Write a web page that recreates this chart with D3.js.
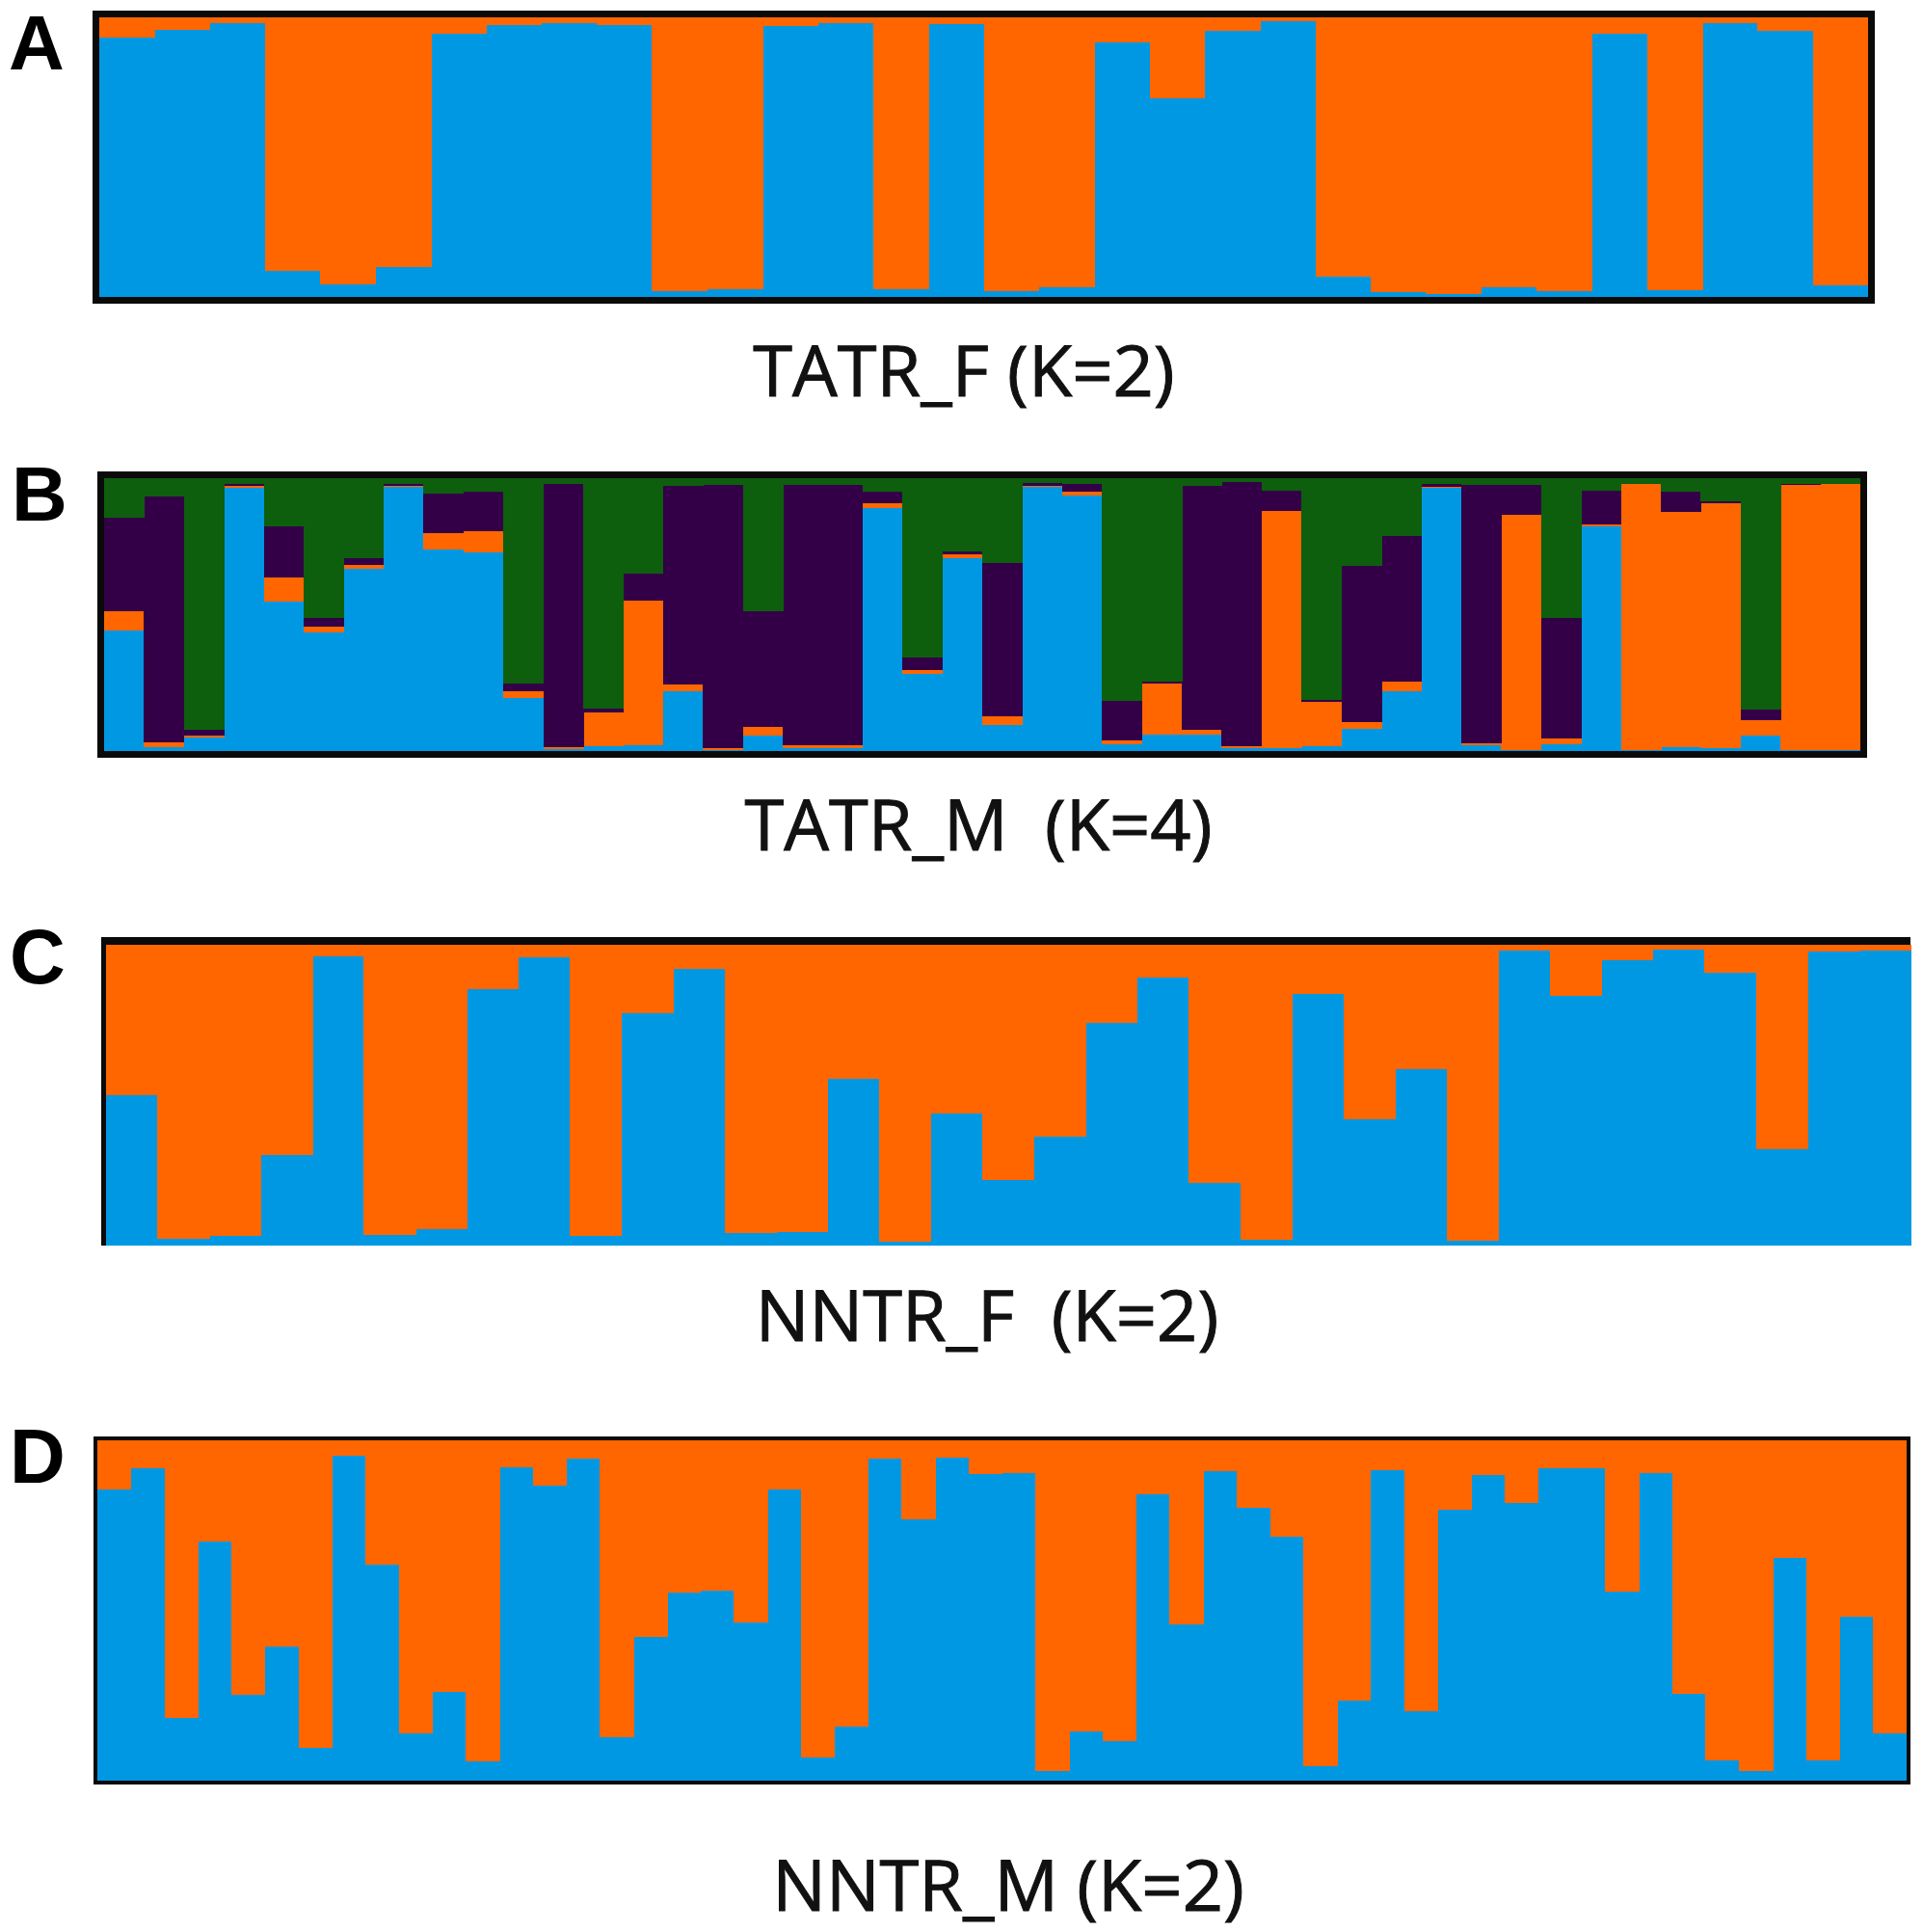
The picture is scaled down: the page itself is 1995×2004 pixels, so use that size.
<!DOCTYPE html>
<html>
<head>
<meta charset="utf-8">
<script src="https://cdn.jsdelivr.net/npm/d3@7/dist/d3.min.js"></script>
<style>
  html, body { margin: 0; padding: 0; background: #ffffff; }
  svg { display: block; }
</style>
</head>
<body>
<svg id="chart" width="1995" height="2004"></svg>
<script>
// ---------------- DATA ----------------
// Cluster colours
const clusterKeys = ["blue", "orange", "purple", "green"];
const clusterColors = ["#0098e3", "#ff6600", "#330047", "#0d5f0d"];

// Panel titles / letters
const panelLetters = ["A", "B", "C", "D"];
const panelTitles = ["TATR_F (K=2)", "TATR_M  (K=4)", "NNTR_F  (K=2)", "NNTR_M (K=2)"];

// Panel A: TATR_F, K=2 (32 individuals)
const aBlue = [0.928,0.957,0.980,0.095,0.045,0.107,0.941,0.974,0.980,0.974,0.023,0.029,0.971,0.980,0.029,0.977,
               0.023,0.037,0.910,0.713,0.954,0.986,0.075,0.017,0.011,0.034,0.021,0.943,0.026,0.979,0.952,0.044];
const aOrange = [0.072,0.043,0.020,0.905,0.955,0.893,0.059,0.026,0.020,0.026,0.977,0.971,0.029,0.020,0.971,0.023,
                 0.977,0.963,0.090,0.287,0.046,0.014,0.925,0.983,0.989,0.966,0.979,0.057,0.974,0.021,0.048,0.956];

// Panel B: TATR_M, K=4 (44 individuals)
const bBlue = [0.442,0.015,0.049,0.965,0.548,0.435,0.671,0.968,0.739,0.729,0.195,0.009,0.019,0.024,0.219,0.004,
               0.056,0.012,0.012,0.889,0.282,0.709,0.098,0.971,0.936,0.027,0.062,0.062,0.012,0.012,0.019,0.082,
               0.219,0.965,0.021,0.004,0.027,0.824,0.004,0.015,0.012,0.056,0.004,0.004];
const bOrange = [0.073,0.018,0.007,0.009,0.087,0.021,0.012,0.006,0.061,0.078,0.024,0.006,0.122,0.529,0.026,0.008,
                 0.035,0.009,0.012,0.020,0.015,0.012,0.032,0.003,0.016,0.012,0.188,0.015,0.007,0.871,0.161,0.024,
                 0.035,0.003,0.009,0.865,0.020,0.009,0.976,0.862,0.898,0.059,0.971,0.976];
const bPurple = [0.341,0.902,0.024,0.006,0.188,0.033,0.024,0.006,0.145,0.146,0.028,0.965,0.015,0.098,0.729,0.965,
                 0.424,0.955,0.952,0.041,0.047,0.012,0.560,0.009,0.027,0.147,0.005,0.896,0.969,0.074,0.008,0.574,
                 0.534,0.012,0.946,0.108,0.442,0.124,0.000,0.073,0.008,0.038,0.005,0.000];
const bGreen = [0.144,0.065,0.920,0.020,0.176,0.511,0.294,0.020,0.055,0.047,0.753,0.020,0.844,0.349,0.026,0.024,
                0.485,0.024,0.024,0.049,0.655,0.267,0.310,0.017,0.020,0.814,0.745,0.026,0.012,0.044,0.812,0.320,
                0.212,0.020,0.024,0.024,0.511,0.044,0.020,0.049,0.082,0.847,0.020,0.020];

// Panel C: NNTR_F, K=2 (35 individuals)
const cBlue = [0.502,0.024,0.032,0.302,0.964,0.037,0.056,0.853,0.959,0.032,0.773,0.920,0.042,0.047,0.554,0.013,0.441,
               0.220,0.364,0.741,0.893,0.208,0.021,0.837,0.420,0.586,0.018,0.982,0.831,0.950,0.985,0.907,0.321,0.979,0.982];
const cOrange = [0.498,0.976,0.968,0.698,0.036,0.963,0.944,0.147,0.041,0.968,0.227,0.080,0.958,0.953,0.446,0.987,0.559,
                 0.780,0.636,0.259,0.107,0.792,0.979,0.163,0.580,0.414,0.982,0.018,0.169,0.050,0.015,0.093,0.679,0.021,0.018];

// Panel D: NNTR_M, K=2 (54 individuals)
const dBlue = [0.855,0.920,0.184,0.704,0.253,0.395,0.097,0.955,0.636,0.139,0.262,0.057,0.922,0.868,0.947,0.129,0.422,0.553,
               0.560,0.466,0.855,0.069,0.159,0.947,0.768,0.950,0.903,0.905,0.028,0.144,0.118,0.841,0.461,0.909,0.803,0.718,
               0.043,0.236,0.912,0.205,0.797,0.898,0.818,0.919,0.919,0.555,0.905,0.255,0.059,0.028,0.655,0.059,0.482,0.139];
const dOrange = [0.145,0.080,0.816,0.296,0.747,0.605,0.903,0.045,0.364,0.861,0.738,0.943,0.078,0.132,0.053,0.871,0.578,0.447,
                 0.440,0.534,0.145,0.931,0.841,0.053,0.232,0.050,0.097,0.095,0.972,0.856,0.882,0.159,0.539,0.091,0.197,0.282,
                 0.957,0.764,0.088,0.795,0.203,0.102,0.182,0.081,0.081,0.445,0.095,0.745,0.941,0.972,0.345,0.941,0.518,0.861];

// ---------------- LAYOUT ----------------
const panels = [
  { series: { blue: aBlue, orange: aOrange }, keys: ["blue","orange"],
    x0: 103, x1: 1938, y0: 18, y1: 308, border: "full", sw: 7,
    letterX: 9, letterY: 72, titleX: 1000, titleY: 411 },
  { series: { blue: bBlue, orange: bOrange, purple: bPurple, green: bGreen }, keys: ["blue","orange","purple","green"],
    x0: 108, x1: 1930, y0: 496, y1: 779, border: "full", sw: 7,
    letterX: 12, letterY: 540, titleX: 1015, titleY: 882 },
  { series: { blue: cBlue, orange: cOrange }, keys: ["blue","orange"],
    x0: 110, x1: 1982, y0: 980, y1: 1292, border: "topleft", sw: 8,
    letterX: 10, letterY: 1020, titleX: 1024, titleY: 1391 },
  { series: { blue: dBlue, orange: dOrange }, keys: ["blue","orange"],
    x0: 101, x1: 1978, y0: 1494, y1: 1847, border: "full", sw: 4,
    letterX: 10, letterY: 1538, titleX: 1046, titleY: 1982 }
];

const color = d3.scaleOrdinal().domain(clusterKeys).range(clusterColors);
const svg = d3.select("#chart");

panels.forEach((p, pi) => {
  const n = p.series[p.keys[0]].length;
  const rows = d3.range(n).map(i => {
    const r = { id: i };
    p.keys.forEach(k => { r[k] = p.series[k][i]; });
    return r;
  });
  const stack = d3.stack().keys(p.keys).offset(d3.stackOffsetExpand);
  const layers = stack(rows);

  const x = d3.scaleBand().domain(d3.range(n)).range([p.x0, p.x1]).paddingInner(0).paddingOuter(0);
  const y = d3.scaleLinear().domain([0, 1]).range([p.y1, p.y0]);

  const g = svg.append("g").attr("class", "panel-" + panelLetters[pi]);

  g.selectAll("g.layer")
    .data(layers)
    .join("g")
      .attr("class", "layer")
      .attr("fill", d => color(d.key))
    .selectAll("rect")
    .data(d => d)
    .join("rect")
      .attr("x", d => x(d.data.id))
      .attr("width", x.bandwidth() + 0.6)
      .attr("y", d => y(d[1]))
      .attr("height", d => Math.max(0, y(d[0]) - y(d[1])) + 0.3)
      .attr("shape-rendering", "crispEdges");

  const h = p.sw / 2;
  if (p.border === "full") {
    g.append("rect")
      .attr("x", p.x0 - h).attr("y", p.y0 - h)
      .attr("width", p.x1 - p.x0 + p.sw).attr("height", p.y1 - p.y0 + p.sw)
      .attr("fill", "none").attr("stroke", "#0a0a0a").attr("stroke-width", p.sw);
  } else {
    g.append("line")
      .attr("x1", p.x0 - 5).attr("x2", p.x1).attr("y1", p.y0 - h).attr("y2", p.y0 - h)
      .attr("stroke", "#0a0a0a").attr("stroke-width", p.sw);
    g.append("line")
      .attr("x1", p.x0 - 2.5).attr("x2", p.x0 - 2.5).attr("y1", p.y0 - p.sw).attr("y2", p.y1)
      .attr("stroke", "#0a0a0a").attr("stroke-width", 5);
  }

  svg.append("text")
    .attr("x", p.letterX).attr("y", p.letterY)
    .attr("font-family", "'Liberation Sans', Arial, sans-serif")
    .attr("font-weight", "bold")
    .attr("font-size", 80)
    .attr("fill", "#000")
    .text(panelLetters[pi]);

  svg.append("text")
    .attr("x", p.titleX).attr("y", p.titleY)
    .attr("text-anchor", "middle")
    .attr("font-family", "'Open Sans', sans-serif")
    .attr("font-size", 74)
    .attr("fill", "#111")
    .attr("stroke", "#111")
    .attr("stroke-width", 1)
    .style("white-space", "pre")
    .attr("xml:space", "preserve")
    .text(panelTitles[pi]);
});
</script>
</body>
</html>
